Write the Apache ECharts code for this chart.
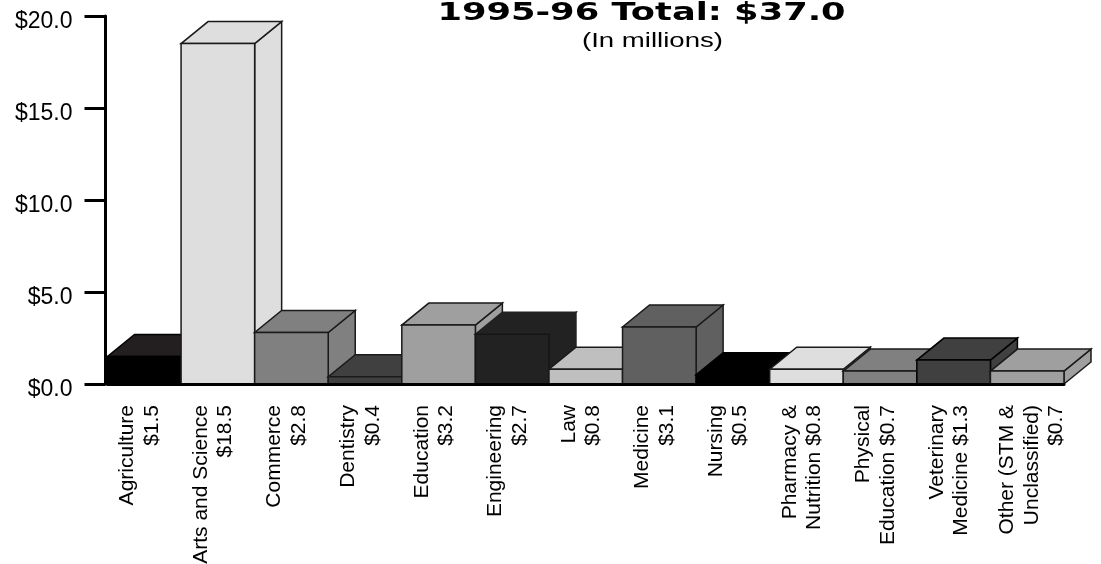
<!DOCTYPE html>
<html>
<head>
<meta charset="utf-8">
<style>
  html, body { margin: 0; padding: 0; background: #fff; }
  #chart { width: 1101px; height: 564px; }
</style>
<script src="https://cdn.jsdelivr.net/npm/echarts@6/dist/echarts.min.js"></script>
</head>
<body>
<div id="chart"></div>
<script>
const titleText = "1995-96 Total: $37.0";
const subtitleText = "(In millions)";
const categories = [
  "Agriculture\n$1.5", "Arts and Science\n$18.5", "Commerce\n$2.8", "Dentistry\n$0.4",
  "Education\n$3.2", "Engineering\n$2.7", "Law\n$0.8", "Medicine\n$3.1", "Nursing\n$0.5",
  "Pharmacy &\nNutrition $0.8", "Physical\nEducation $0.7", "Veterinary\nMedicine $1.3",
  "Other (STM &\nUnclassified)\n$0.7"
];
const amounts = [1.5, 18.5, 2.8, 0.4, 3.2, 2.7, 0.8, 3.1, 0.5, 0.8, 0.7, 1.3, 0.7];
const barColors = [
  "#000000", "#dedede", "#808080", "#404040", "#9f9f9f", "#222222", "#bfbfbf",
  "#606060", "#000000", "#dedede", "#808080", "#404040", "#9f9f9f"
];
const topColors = [
  "#231f20", "#dedede", "#808080", "#404040", "#9f9f9f", "#222222", "#bfbfbf",
  "#606060", "#000000", "#dedede", "#808080", "#404040", "#9f9f9f"
];
const edgeColors = [
  "#000000", "#1a1a1a", "#1a1a1a", "#1a1a1a", "#1a1a1a", "#222222", "#1a1a1a",
  "#1a1a1a", "#000000", "#1a1a1a", "#1a1a1a", "#000000", "#1a1a1a"
];
const yTicks = [0, 5, 10, 15, 20];

// 3d offset of the box, in px
const depthX = 27;
const depthY = 22;

function renderBox(params, api) {
  const i = api.value(0);
  const top = api.coord([i, api.value(1)]);
  const bottom = api.coord([i, 0]);
  const w = api.size([1, 0])[0];
  const x0 = top[0] - w / 2;
  const x1 = top[0] + w / 2;
  const y0 = top[1];
  const y1 = bottom[1];
  const line = { stroke: edgeColors[i], lineWidth: 1.5, fill: barColors[i] };
  return {
    type: "group",
    children: [
      {
        type: "polygon",
        shape: { points: [[x1, y0], [x1 + depthX, y0 - depthY], [x1 + depthX, y1 - depthY], [x1, y1]] },
        style: line
      },
      {
        type: "polygon",
        shape: { points: [[x0, y0], [x1, y0], [x1 + depthX, y0 - depthY], [x0 + depthX, y0 - depthY]] },
        style: Object.assign({}, line, { fill: topColors[i] })
      },
      {
        type: "rect",
        shape: { x: x0, y: y0, width: x1 - x0, height: y1 - y0 },
        // engineering only shows a faint outline on the front face
        style: Object.assign({}, line, { stroke: edgeColors[i] === "#222222" ? "#161616" : edgeColors[i] })
      }
    ]
  };
}

// labels sit off the band centre in the original, a thin empty line pushes them over
function labelText(name) {
  return name.split("\n").length > 2 ? "{gap| }\n" + name : name + "\n{gap| }";
}

const myChart = echarts.init(document.getElementById("chart"), null, { renderer: "canvas" });
myChart.setOption({
  animation: false,
  backgroundColor: "#fff",
  // title is wider than any installed font, so it is stretched
  graphic: [
    {
      type: "text",
      x: 641.5, y: 13, scaleX: 1.41,
      style: {
        text: titleText,
        align: "center",
        verticalAlign: "middle",
        font: "bold 25px 'DejaVu Sans'",
        fill: "#000"
      }
    },
    {
      type: "text",
      x: 652.5, y: 41, scaleX: 1.38,
      style: {
        text: subtitleText,
        align: "center",
        verticalAlign: "middle",
        font: "20px 'Liberation Sans'",
        fill: "#000"
      }
    }
  ],
  grid: { left: 107.5, right: 37, top: 16, bottom: 180, outerBoundsMode: "none" },
  xAxis: {
    type: "category",
    data: categories,
    z: 10,
    axisLine: { lineStyle: { color: "#000", width: 3 } },
    axisTick: { show: false },
    axisLabel: {
      interval: 0,
      rotate: 90,
      margin: 21,
      align: "right",
      verticalAlign: "middle",
      color: "#000",
      fontFamily: "Liberation Sans",
      fontSize: 21,
      lineHeight: 24.5,
      formatter: labelText,
      rich: { gap: { fontSize: 1, lineHeight: 9 } }
    }
  },
  yAxis: {
    type: "value",
    min: yTicks[0],
    max: yTicks[yTicks.length - 1],
    interval: 5,
    offset: 2,
    z: 10,
    splitLine: { show: false },
    axisLine: { show: true, lineStyle: { color: "#000", width: 3 } },
    axisTick: { show: true, length: 21, lineStyle: { color: "#000", width: 3 } },
    axisLabel: {
      margin: 33,
      color: "#000",
      fontFamily: "Liberation Sans",
      fontSize: 23,
      // tick labels hang a little below their ticks
      formatter: val => "{gap| }\n$" + val.toFixed(1),
      rich: { gap: { fontSize: 1, lineHeight: 12 } }
    }
  },
  series: [
    {
      type: "custom",
      renderItem: renderBox,
      clip: false,
      encode: { x: 0, y: 1 },
      data: amounts.map((v, i) => [i, v])
    }
  ]
});
</script>
</body>
</html>
